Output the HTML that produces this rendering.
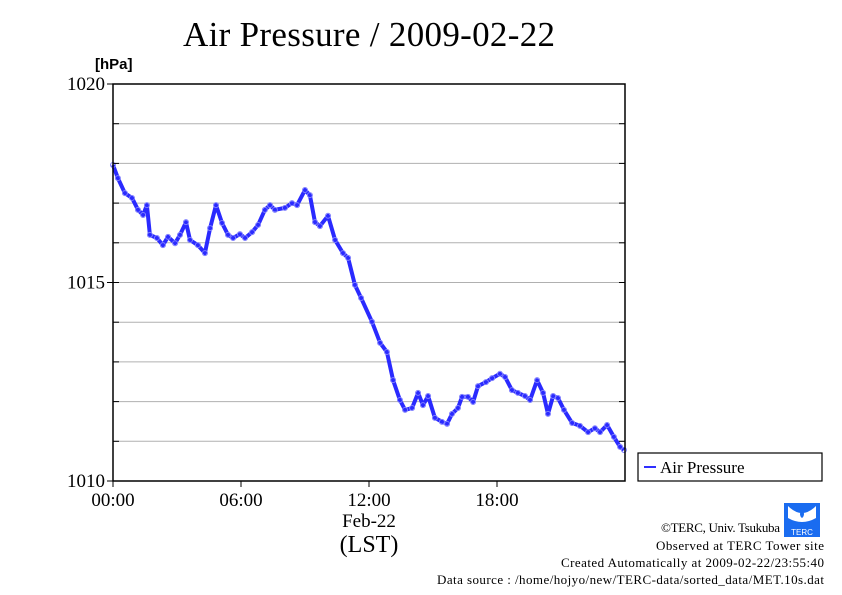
<!DOCTYPE html>
<html><head><meta charset="utf-8"><style>
body{margin:0;background:#fff}
svg{display:block;font-family:"Liberation Serif",serif}
</style></head><body>
<svg id="chart" width="842" height="595" xmlns="http://www.w3.org/2000/svg">
<rect width="842" height="595" fill="#fff"/>
<text x="369" y="46" font-size="35" text-anchor="middle" textLength="372">Air Pressure / 2009-02-22</text>
<text x="95" y="69" font-size="15" font-weight="bold" font-family="Liberation Sans, sans-serif">[hPa]</text>
<g id="grid"></g>
<g id="series"></g>
<rect x="113" y="84" width="512" height="397" fill="none" stroke="#000" stroke-width="1.5"/>
<g id="axes"></g>
<text x="369" y="527" font-size="19" text-anchor="middle">Feb-22</text>
<text x="369" y="552" font-size="24" text-anchor="middle">(LST)</text>
<g>
<rect x="638" y="453" width="184" height="28" fill="#fff" stroke="#000" stroke-width="1.2"/>
<line x1="644" y1="467" x2="656" y2="467" stroke="#3030ff" stroke-width="2"/>
<text x="660" y="473" font-size="17">Air Pressure</text>
</g>
<g>
<rect x="784" y="503" width="36" height="34" fill="#1a6cf0"/>
<path d="M788 506 q14 14 28 0 v12 q-14 8 -28 0z" fill="#fff"/>
<path d="M802 508 q-4 7 0 10 q4 -3 0 -10z" fill="#1a6cf0"/>
<text x="802" y="535" font-size="8" fill="#fff" text-anchor="middle" font-family="Liberation Sans, sans-serif">TERC</text>
</g>
<g font-size="13" text-anchor="end">
<text x="780" y="532" textLength="119">©TERC, Univ. Tsukuba</text>
<text x="824" y="550" textLength="168">Observed at TERC Tower site</text>
<text x="824" y="567" textLength="263">Created Automatically at 2009-02-22/23:55:40</text>
<text x="824" y="584" textLength="387">Data source : /home/hojyo/new/TERC-data/sorted_data/MET.10s.dat</text>
</g>
</svg>
<script>
const hours=[0,0.23,0.56,0.89,1.17,1.41,1.59,1.73,2.06,2.34,2.58,2.91,3.14,3.42,3.61,3.98,4.31,4.55,4.83,5.11,5.39,5.63,5.95,6.19,6.52,6.80,7.12,7.36,7.59,8.06,8.39,8.63,9.00,9.23,9.47,9.70,10.08,10.41,10.78,11.02,11.34,11.63,12.14,12.52,12.84,13.13,13.45,13.69,14.02,14.30,14.53,14.77,15.09,15.42,15.66,15.89,16.17,16.36,16.64,16.88,17.11,17.48,17.77,18.14,18.38,18.70,18.98,19.31,19.55,19.88,20.16,20.39,20.63,20.86,21.14,21.52,21.89,22.27,22.59,22.83,23.16,23.48,23.77,23.95];
const pressure=[1017.96,1017.63,1017.25,1017.13,1016.83,1016.70,1016.95,1016.20,1016.12,1015.94,1016.15,1015.99,1016.20,1016.52,1016.07,1015.94,1015.74,1016.37,1016.95,1016.50,1016.20,1016.12,1016.22,1016.12,1016.27,1016.45,1016.83,1016.95,1016.83,1016.88,1017.00,1016.95,1017.33,1017.20,1016.52,1016.42,1016.68,1016.07,1015.74,1015.62,1014.94,1014.61,1014.01,1013.48,1013.25,1012.54,1012.04,1011.79,1011.84,1012.22,1011.91,1012.14,1011.59,1011.49,1011.44,1011.69,1011.84,1012.12,1012.12,1011.99,1012.39,1012.49,1012.59,1012.70,1012.62,1012.29,1012.22,1012.14,1012.04,1012.54,1012.22,1011.69,1012.14,1012.09,1011.79,1011.46,1011.39,1011.23,1011.33,1011.23,1011.41,1011.11,1010.86,1010.78];
const yTicks=[1010,1015,1020];
const xTickHours=[0,6,12,18];
const xTickLabels=["00:00","06:00","12:00","18:00"];
const NS="http://www.w3.org/2000/svg";
const X=h=>113+h/24*512;
const Y=v=>481-(v-1010)/10*397;
function mk(tag,attrs,parent){const e=document.createElementNS(NS,tag);for(const k in attrs)e.setAttribute(k,attrs[k]);parent.appendChild(e);return e;}
const grid=document.getElementById('grid'),axes=document.getElementById('axes'),series=document.getElementById('series');
for(let v=1011;v<1020;v++){const l=mk('line',{x1:113,x2:625,y1:Y(v),y2:Y(v),stroke:'#b0b0b0','stroke-width':1},grid);


mk('line',{x1:113,x2:119,y1:Y(v),y2:Y(v),stroke:'#000'},axes);mk('line',{x1:619,x2:625,y1:Y(v),y2:Y(v),stroke:'#000'},axes);}
yTicks.forEach(v=>{const t=mk('text',{x:105,y:Y(v)+6,'font-size':19,'text-anchor':'end'},axes);t.textContent=v;


mk('line',{x1:107,x2:113,y1:Y(v),y2:Y(v),stroke:'#000'},axes);});
xTickHours.forEach((h,i)=>{const t=mk('text',{x:X(h),y:506,'font-size':19,'text-anchor':'middle'},axes);t.textContent=xTickLabels[i];


mk('line',{x1:X(h),x2:X(h),y1:481,y2:487,stroke:'#000'},axes);});
const pts=hours.map((h,i)=>X(h).toFixed(1)+','+Y(pressure[i]).toFixed(1)).join(' ');
const pl=mk('polyline',{points:pts,fill:'none',stroke:'#2a2aff','stroke-width':4,'stroke-linejoin':'round'},series);


hours.forEach((h,i)=>{const c=mk('circle',{cx:X(h),cy:Y(pressure[i]),r:2.5,fill:'none',stroke:'#8080ff','stroke-width':1},series);

});
</script>
</body></html>
